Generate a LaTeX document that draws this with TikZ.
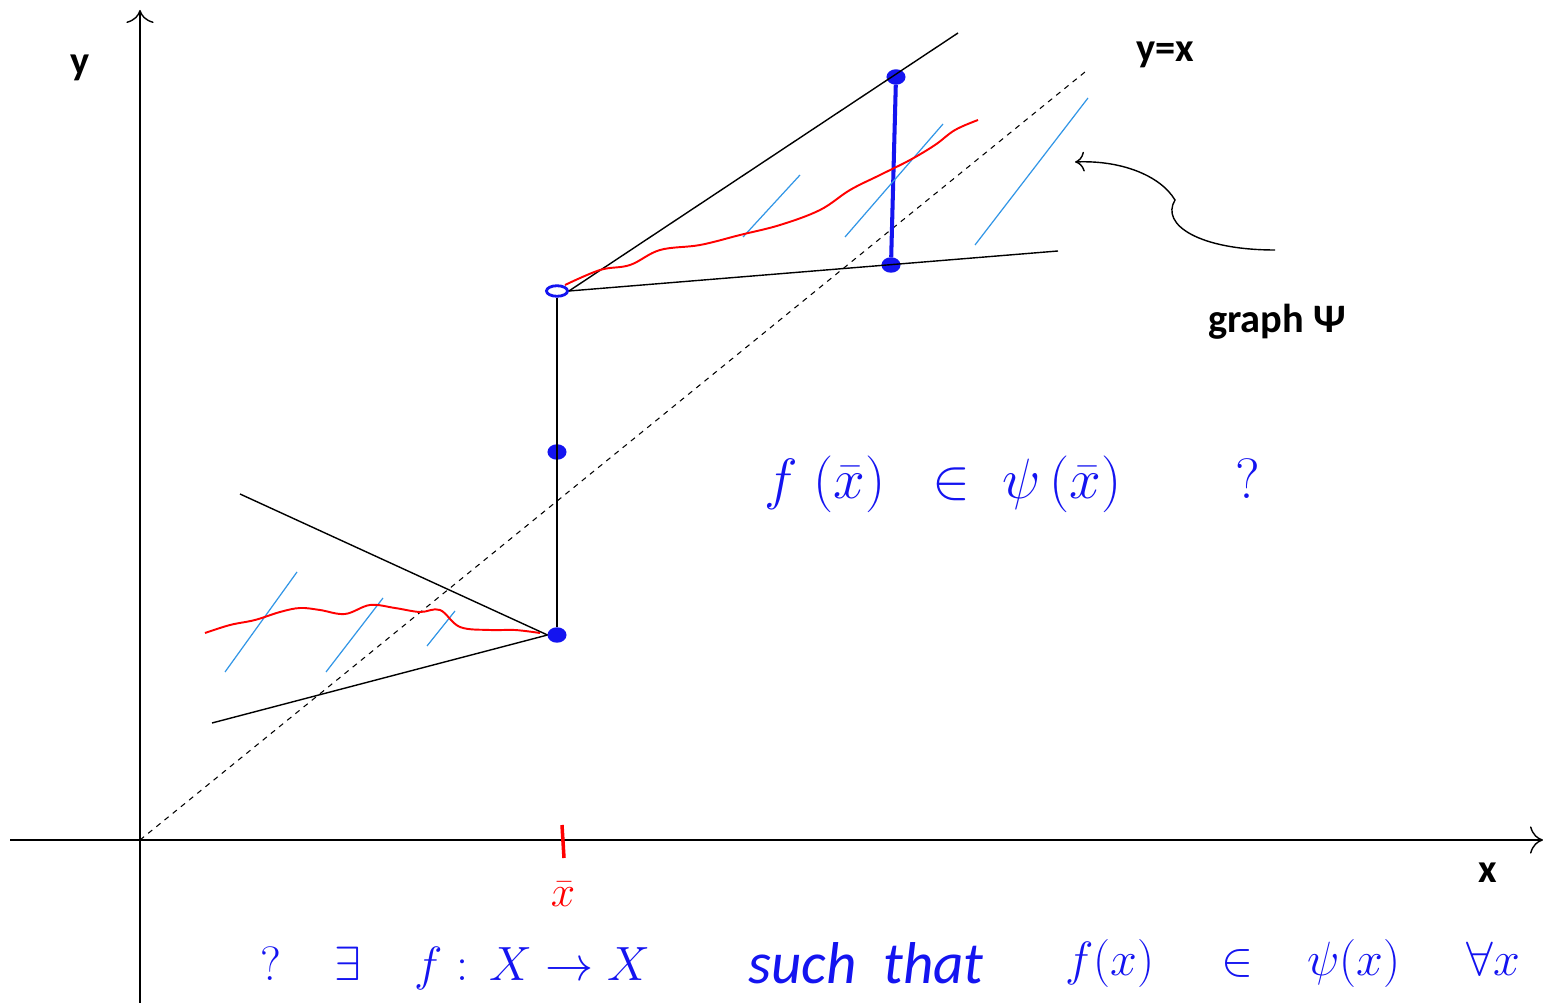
\documentclass[tikz,border=0pt]{standalone}
\usepackage{amsmath}
\usepackage{amssymb}
\usepackage{fontspec}
\setmainfont{Carlito}
\usetikzlibrary{calc}
\usetikzlibrary{shapes.geometric}
\usetikzlibrary{arrows.meta}

\definecolor{pen}{RGB}{20,20,240}
\definecolor{hatch}{RGB}{50,150,230}
\newcommand{\pentext}[2]{\scalebox{#1}{\Huge$#2$}}

\begin{document}
\begin{tikzpicture}[x=0.02cm,y=-0.02cm,line width=0.8pt,>={To[scale=2.2]},
  dot/.style={fill=pen,draw=pen,ellipse,inner sep=0pt,minimum width=10pt,minimum height=8pt},
  hatchline/.style={hatch,line width=0.7pt},
  wave/.style={red,line width=1.1pt},
  lab/.style={font=\fontsize{23}{26}\selectfont\bfseries},
  hand/.style={pen}]
\useasboundingbox (0,0) rectangle (1543,1003);
\def\xb{557}
% axes
\coordinate (o) at (140,840);
\coordinate (ytop) at (140,10);
\coordinate (ybot) at (140,1003);
\coordinate (xl) at (10,840);
\coordinate (xr) at (1543,840);
\draw[->] (ybot) -- (ytop);
\draw[->] (xl) -- (xr);
\node[lab] (ly) at (80,68) {y};
\node[lab] (lx) at (1488,873) {x};
% diagonal
\coordinate (d) at (1085,72);
\draw[dashed,line width=0.6pt] (o) -- (d);
\node[lab] (lyx) at (1165,55) {y=x};
% points of the graph
\node[dot,fill=none,line width=1.6pt,minimum width=12pt,minimum height=6pt] (a2) at (\xb,291) {};
\node[dot] (a1) at (\xb,452) {};
\node[dot] (a0) at (\xb,635) {};
\node[dot] (b1) at (896,77) {};
\node[dot] (b0) at (891,265) {};
\coordinate (u1) at (958,33);
\coordinate (u2) at (1058,251);
\coordinate (l1) at (240,494);
\coordinate (l2) at (212,723);
\draw (a2.south) -- (a0.north);
\draw (a2.east) -- (u1);
\draw (a2.east) -- (u2);
\draw (a0.west) -- (l1);
\draw (a0.west) -- (l2);
\draw[pen,line width=2.3pt] (b1) -- (b0);
% hatching
\draw[hatchline] (743,237) -- (800,175);
\draw[hatchline] (845,237) -- (943,124);
\draw[hatchline] (975,245) -- (1088,98);
\draw[hatchline] (225,672) -- (297,572);
\draw[hatchline] (326,672) -- (383,598);
\draw[hatchline] (427,646) -- (455,611);
% selections
\draw[wave] plot[smooth,tension=0.6] coordinates {(565,285) (600,270) (630,265) (660,250) (700,245)
  (740,235) (780,225) (820,210) (850,190) (880,175) (910,160) (935,145) (955,130) (978,120)};
\draw[wave] plot[smooth,tension=0.6] coordinates {(205,633) (230,625) (255,620) (280,612) (300,608)
  (320,610) (345,614) (370,605) (395,608) (420,612) (440,610) (460,627) (490,630) (515,630) (540,633)};
% fixed point
\coordinate (t1) at (562,825);
\coordinate (t2) at (564,858);
\draw[red,line width=2pt] (t1) -- (t2);
\node[red,font=\fontsize{24.88}{28}\selectfont] (xbar) at (563,894) {$\bar{x}$};
% label
\node[lab] (gr) at (1277,322) {graph Ψ};
\coordinate (c0) at (1275,250);
\coordinate (c1) at (1075,162);
\draw[->,>={To[scale=1.6]}] (c0) .. controls (1200,250) and (1160,225) .. (1175,200)
  .. controls (1160,175) and (1120,160) .. (c1);
% questions
\node[hand] (q1) at (1012,484)
  {\pentext{1.3}{f\;(\bar{x})\;\;\in\;\psi\,(\bar{x})\qquad ?}};
\node[hand] (q2a) at (455,968) {\pentext{1.1}{?\;\;\;\;\exists\;\;\;\;f:\,X\rightarrow X}};
\node[hand] (q2b) at (866,963) {\pentext{1.35}{\mathit{such}\ \ \mathit{that}}};
\node[hand] (q2c) at (1293,963) {\pentext{1.1}{f(x)\;\;\;\;\in\;\;\;\psi(x)\;\;\;\;\;\forall x}};
\end{tikzpicture}
\end{document}
